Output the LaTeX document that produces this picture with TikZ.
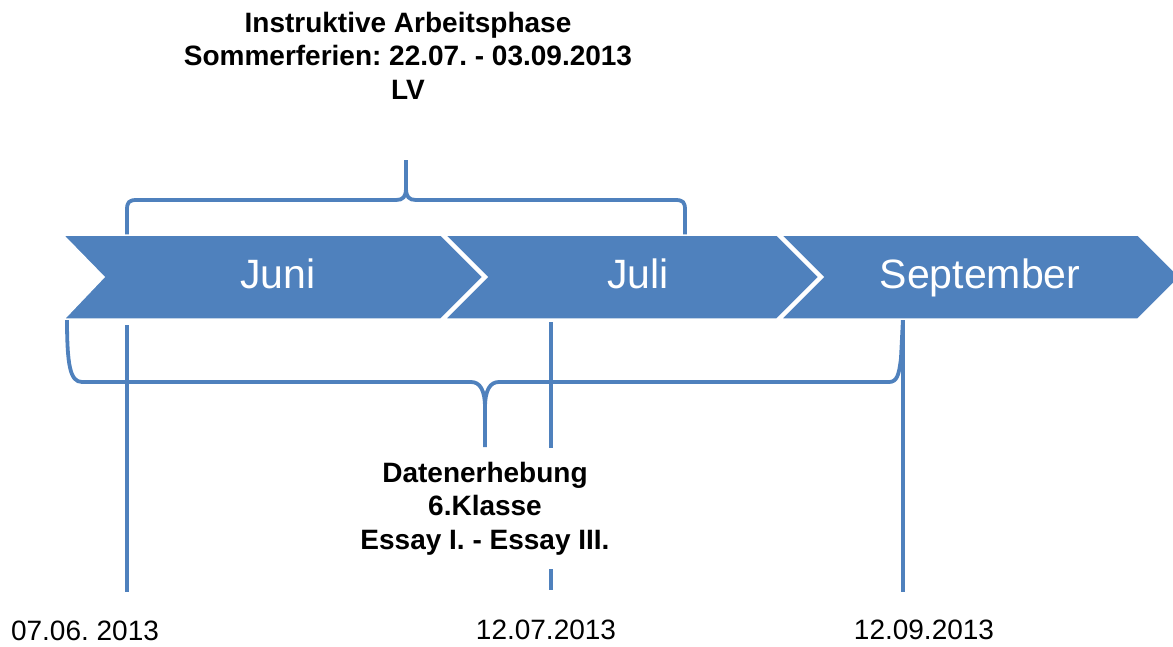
\documentclass[tikz,border=0pt]{standalone}
\usepackage{fontspec}
\setmainfont{Liberation Sans}
\frenchspacing
\definecolor{blu}{RGB}{79,129,189}
\begin{document}
\begin{tikzpicture}[x=1pt,y=-1pt,
  chev/.style={fill=blu,draw=white,line width=1.5pt,line join=miter},
  month/.style={text=white,font=\fontsize{41}{48}\selectfont,anchor=base,inner sep=0pt},
  brace/.style={draw=blu,line width=3.8pt,line join=round},
  tick/.style={draw=blu,line width=3.2pt},
  head/.style={font=\bfseries\fontsize{28}{33.5}\selectfont,align=center,anchor=north,inner sep=0pt},
  date/.style={font=\fontsize{28}{33}\selectfont,anchor=base,inner sep=0pt}]
\useasboundingbox (0,0) rectangle (1173,646);
\clip (0,0) rectangle (1173,646);

% date ticks
\coordinate (t1) at (127,325); \coordinate (b1) at (127,592);
\coordinate (t2) at (551,322); \coordinate (b2) at (551,590);
\coordinate (t3) at (903,318); \coordinate (b3) at (903,592);
\draw[tick] (t1) -- (b1);
\draw[tick] (t2) -- (b2);
\draw[tick] (t3) -- (b3);

% date labels
\node[date] (d1) at (85,640) {07.06. 2013};
\node[date] (d2) at (546,639) {12.07.2013};
\node[date] (d3) at (924,639) {12.09.2013};

% texts
\node[head] (hdr) at (408,12) {Instruktive Arbeitsphase\\Sommerferien: 22.07. - 03.09.2013\\LV};
\node[head,fill=white,inner ysep=14pt] (dat) at (485,448) {Datenerhebung\\6.Klasse\\Essay I. - Essay III.};

% top brace
\coordinate (tl) at (127,236); \coordinate (tr) at (685,236);
\coordinate (ttip) at (406,160); \coordinate (tmid) at (406,188);
\draw[brace] (tl) -- (127,210) .. controls (127,202) and (129,200) .. (137,200) -- (396,200)
  .. controls (403,200) and (406,197) .. (tmid) -- (ttip);
\draw[brace] (tr) -- (685,210) .. controls (685,202) and (683,200) .. (675,200) -- (416,200)
  .. controls (409,200) and (406,197) .. (tmid);

% bottom brace
\coordinate (bl) at (67,318); \coordinate (br) at (903,318);
\coordinate (btip) at (485,447); \coordinate (bmid) at (485,408);
\draw[brace] (bl) .. controls (67,365) and (70,382) .. (82,382) -- (471,382)
  .. controls (480,382) and (485,390) .. (bmid) -- (btip);
\draw[brace] (br) -- (901,358) .. controls (899,375) and (897,382) .. (889,382) -- (499,382)
  .. controls (490,382) and (485,390) .. (bmid);

% chevrons
\path[chev] (63,235) -- (441,235) -- (483,277) -- (441,319) -- (64,319) -- (104,277) -- cycle;
\path[chev] (445,235) -- (777,235) -- (819,277) -- (777,319) -- (445,319) -- (487,277) -- cycle;
\path[chev] (781,235) -- (1138,235) -- (1180,277) -- (1138,319) -- (781,319) -- (823,277) -- cycle;

\node[month] (juni) at (278,288) {Juni};
\node[month] (juli) at (638,288) {Juli};
\node[month] (sep) at (980,288) {September};
\end{tikzpicture}
\end{document}
